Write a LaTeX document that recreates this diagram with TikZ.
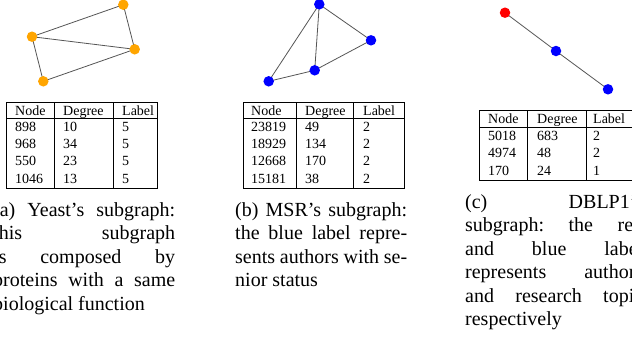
\documentclass[tikz,border=0pt]{standalone}
\usepackage{fontspec}
\setmainfont{Liberation Serif}
\definecolor{gorange}{HTML}{FFA500}
\definecolor{gblue}{HTML}{0000FF}
\definecolor{gred}{HTML}{FF0000}
\definecolor{edgegray}{HTML}{555555}
\tikzset{
  vert/.style={circle, inner sep=0pt, minimum size=10.5pt, fill=#1},
  edge/.style={draw=edgegray, line width=0.8pt},
  tabrule/.style={draw=black, line width=0.8pt},
  tabtext/.style={anchor=base west, inner sep=0pt, font=\fontsize{14}{16.8}\selectfont},
  captext/.style={anchor=base west, inner sep=0pt, font=\fontsize{20}{23.5}\selectfont},
}
\begin{document}
\begin{tikzpicture}[x=1pt, y=-1pt]
\useasboundingbox (0,0) rectangle (632,338);
\clip (0,0) rectangle (632,338);
\fill[white] (0,0) rectangle (632,338);

% ---------- (a) Yeast ----------
\coordinate (a1) at (123.3,4.7);
\coordinate (a2) at (32,36.7);
\coordinate (a3) at (134.7,49.3);
\coordinate (a4) at (43.3,81.3);
\draw[edge] (a2) -- (a1);
\draw[edge] (a2) -- (a3);
\draw[edge] (a1) -- (a3);
\draw[edge] (a2) -- (a4);
\draw[edge] (a4) -- (a3);
\node[vert=gorange] (na1) at (a1) {};
\node[vert=gorange] (na2) at (a2) {};
\node[vert=gorange] (na3) at (a3) {};
\node[vert=gorange] (na4) at (a4) {};

% table (a)
\draw[tabrule] (6,102) rectangle (157,188);
\draw[tabrule] (6,118.5) -- (157,118.5);
\draw[tabrule] (54,102) -- (54,188);
\draw[tabrule] (113,102) -- (113,188);
\node[tabtext] (ta1) at (15,115) {Node};
\node[tabtext] (ta2) at (63,115) {Degree};
\node[tabtext] (ta3) at (122,115) {Label};
\node[tabtext] (ta4) at (15,131) {898};
\node[tabtext] (ta5) at (63,131) {10};
\node[tabtext] (ta6) at (122,131) {5};
\node[tabtext] (ta7) at (15,148.3) {968};
\node[tabtext] (ta8) at (63,148.3) {34};
\node[tabtext] (ta9) at (122,148.3) {5};
\node[tabtext] (ta10) at (15,165.6) {550};
\node[tabtext] (ta11) at (63,165.6) {23};
\node[tabtext] (ta12) at (122,165.6) {5};
\node[tabtext] (ta13) at (15,183) {1046};
\node[tabtext] (ta14) at (63,183) {13};
\node[tabtext] (ta15) at (122,183) {5};

% caption (a)
\node[captext] (ca1) at (-7,216) {\hbox to 182pt{(a)\hfill Yeast’s\hfill subgraph:}};
\node[captext] (ca2) at (-7,239.5) {\hbox to 182pt{this\hfill subgraph}};
\node[captext] (ca3) at (-7,263) {\hbox to 182pt{is\hfill composed\hfill by}};
\node[captext] (ca4) at (-7,286.5) {\hbox to 182pt{proteins\hfill with\hfill a\hfill same}};
\node[captext] (ca5) at (-7,310) {biological function};

% ---------- (b) MSR ----------
\coordinate (b1) at (319.3,4.3);
\coordinate (b2) at (371,40.3);
\coordinate (b3) at (314.7,70.3);
\coordinate (b4) at (268.7,81.3);
\draw[edge] (b1) -- (b4);
\draw[edge] (b1) -- (b3);
\draw[edge] (b1) -- (b2);
\draw[edge] (b2) -- (b3);
\draw[edge] (b3) -- (b4);
\node[vert=gblue] (nb1) at (b1) {};
\node[vert=gblue] (nb2) at (b2) {};
\node[vert=gblue] (nb3) at (b3) {};
\node[vert=gblue] (nb4) at (b4) {};

% table (b)
\draw[tabrule] (243,102) rectangle (404,188);
\draw[tabrule] (243,118.5) -- (404,118.5);
\draw[tabrule] (296,102) -- (296,188);
\draw[tabrule] (353,102) -- (353,188);
\node[tabtext] (tb1) at (251,115) {Node};
\node[tabtext] (tb2) at (305,115) {Degree};
\node[tabtext] (tb3) at (363,115) {Label};
\node[tabtext] (tb4) at (251,131) {23819};
\node[tabtext] (tb5) at (305,131) {49};
\node[tabtext] (tb6) at (363,131) {2};
\node[tabtext] (tb7) at (251,148.3) {18929};
\node[tabtext] (tb8) at (305,148.3) {134};
\node[tabtext] (tb9) at (363,148.3) {2};
\node[tabtext] (tb10) at (251,165.6) {12668};
\node[tabtext] (tb11) at (305,165.6) {170};
\node[tabtext] (tb12) at (363,165.6) {2};
\node[tabtext] (tb13) at (251,183) {15181};
\node[tabtext] (tb14) at (305,183) {38};
\node[tabtext] (tb15) at (363,183) {2};

% caption (b)
\node[captext] (cb1) at (235,216) {\hbox to 172pt{(b)\hfill MSR’s\hfill subgraph:}};
\node[captext] (cb2) at (235,239.5) {\hbox to 172pt{the\hfill blue\hfill label\hfill repre-}};
\node[captext] (cb3) at (235,263) {\hbox to 172pt{sents\hfill authors\hfill with\hfill se-}};
\node[captext] (cb4) at (235,286.5) {nior status};

% ---------- (c) DBLP1 ----------
\coordinate (c1) at (505,12.7);
\coordinate (c2) at (556,51);
\coordinate (c3) at (608,89.3);
\draw[edge] (c1) -- (c2);
\draw[edge] (c2) -- (c3);
\node[vert=gred] (nc1) at (c1) {};
\node[vert=gblue] (nc2) at (c2) {};
\node[vert=gblue] (nc3) at (c3) {};

% table (c)
\draw[tabrule] (479,110) rectangle (640,180);
\draw[tabrule] (479,127) -- (640,127);
\draw[tabrule] (527,110) -- (527,180);
\draw[tabrule] (586,110) -- (586,180);
\node[tabtext] (tc1) at (488,123) {Node};
\node[tabtext] (tc2) at (537,123) {Degree};
\node[tabtext] (tc3) at (593,123) {Label};
\node[tabtext] (tc4) at (488,140) {5018};
\node[tabtext] (tc5) at (537,140) {683};
\node[tabtext] (tc6) at (593,140) {2};
\node[tabtext] (tc7) at (488,157.5) {4974};
\node[tabtext] (tc8) at (537,157.5) {48};
\node[tabtext] (tc9) at (593,157.5) {2};
\node[tabtext] (tc10) at (488,175) {170};
\node[tabtext] (tc11) at (537,175) {24};
\node[tabtext] (tc12) at (593,175) {1};

% caption (c)
\node[captext] (cc1) at (465,208) {\hbox to 178pt{(c)\hfill DBLP1’s}};
\node[captext] (cc2) at (465,231.5) {\hbox to 178pt{subgraph:\hfill the\hfill red}};
\node[captext] (cc3) at (465,255) {\hbox to 178pt{and\hfill blue\hfill label}};
\node[captext] (cc4) at (465,278.5) {\hbox to 178pt{represents\hfill authors}};
\node[captext] (cc5) at (465,302) {\hbox to 178pt{and\hfill research\hfill topic}};
\node[captext] (cc6) at (465,325.5) {respectively};
\end{tikzpicture}
\end{document}
